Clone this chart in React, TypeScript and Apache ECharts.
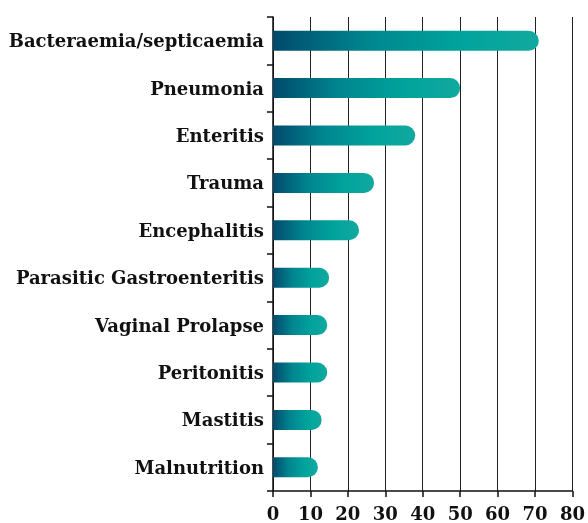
import React, { useEffect, useRef } from "react";
import * as echarts from "echarts";

const categories = [
  "Bacteraemia/septicaemia",
  "Pneumonia",
  "Enteritis",
  "Trauma",
  "Encephalitis",
  "Parasitic Gastroenteritis",
  "Vaginal Prolapse",
  "Peritonitis",
  "Mastitis",
  "Malnutrition",
];
const values = [71, 50, 38, 27, 23, 15, 14.5, 14.5, 13, 12];
const xMin = 0;
const xMax = 80;
const xInterval = 10;

const FONT = "'DejaVu Serif', serif";

export default function App() {
  const ref = useRef<HTMLDivElement>(null);
  useEffect(() => {
    if (!ref.current) return;
    const chart = echarts.init(ref.current, undefined, { renderer: "svg" });
    chart.setOption({
      animation: false,
      grid: { left: 273, right: 12, top: 17, bottom: 32, containLabel: false },
      xAxis: {
        type: "value",
        min: xMin,
        max: xMax,
        interval: xInterval,
        axisLine: { show: true, lineStyle: { color: "#111", width: 1.5 } },
        axisTick: { show: true, length: 6, lineStyle: { color: "#111", width: 1.5 } },
        splitLine: { show: true, lineStyle: { color: "#222", width: 1 } },
        axisLabel: {
          color: "#111",
          fontFamily: FONT,
          fontWeight: "bold",
          fontSize: 18,
          margin: 13,
        },
      },
      yAxis: {
        type: "category",
        data: categories,
        inverse: true,
        axisLine: { show: true, lineStyle: { color: "#111", width: 1.5 } },
        axisTick: { show: true, length: 6, lineStyle: { color: "#111", width: 1.5 } },
        axisLabel: {
          color: "#111",
          fontFamily: FONT,
          fontWeight: "bold",
          fontSize: 18,
          margin: 9,
        },
      },
      series: [
        {
          type: "bar",
          data: values,
          barWidth: 20,
          itemStyle: {
            borderRadius: [0, 10, 10, 0],
            color: new echarts.graphic.LinearGradient(0, 0, 1, 0, [
              { offset: 0, color: "#004a6c" },
              { offset: 0.35, color: "#00858f" },
              { offset: 0.7, color: "#00a39c" },
              { offset: 1, color: "#12a99f" },
            ]),
          },
        },
      ],
    });
    return () => chart.dispose();
  }, []);
  return (
    <div
      ref={ref}
      style={{ position: "fixed", left: 0, top: 0, width: 588, height: 523 }}
    />
  );
}
